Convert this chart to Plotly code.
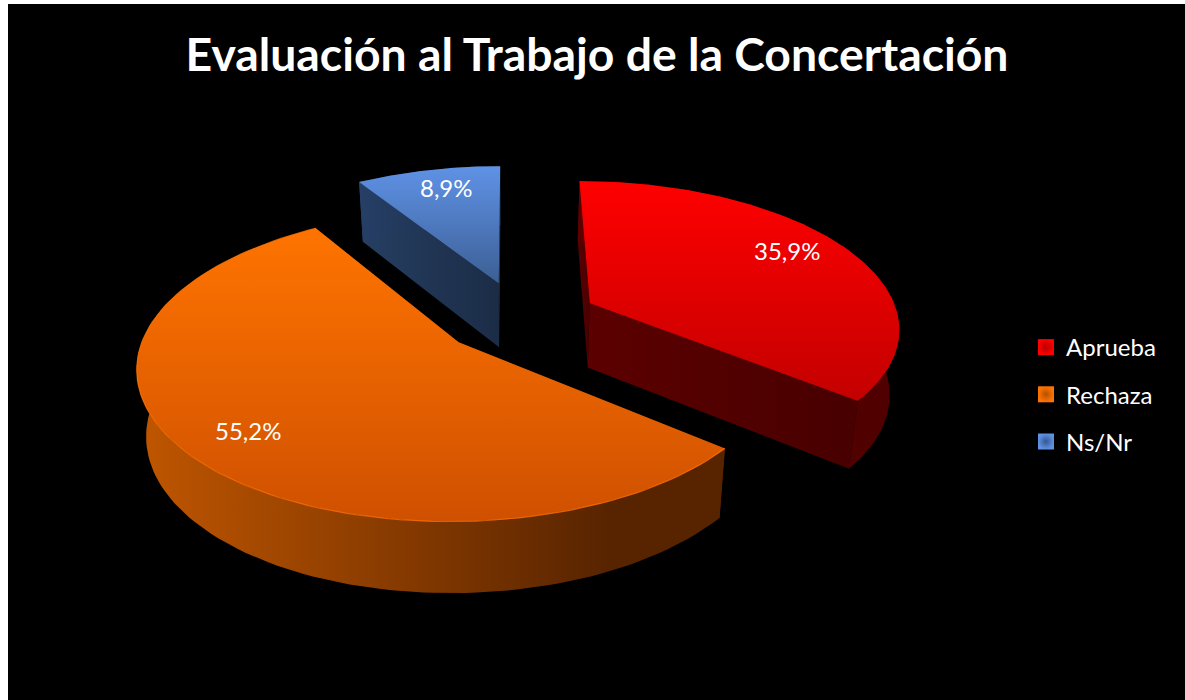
import numpy as np
import plotly.graph_objects as go

categories = ["Aprueba", "Rechaza", "Ns/Nr"]
values = [35.9, 55.2, 8.9]
labels = ["35,9%", "55,2%", "8,9%"]
title = "Evaluación al Trabajo de la Concertación"

explode = [0.29, 0.216, 0.27]
explode_dir_nudge = [0.0, 0.0, 8.0]
top_cols = [["#ff0000", "#c40000"], ["#ff7400", "#cf5000"], ["#5f92e6", "#3c5f94"]]
rim_cols = [["#5c0000", "#500000"], ["#c05600", "#582400"], ["#263f66", "#1a2b45"]]
wall_cols = [["#5c0000", "#480000"], ["#5a2400", "#5a2400"], ["#263f62", "#1b2c46"]]
legend_cols = [["#ff0000", "#b80000"], ["#ff7400", "#b85000"], ["#5f92e6", "#35588f"]]
label_xy = [(787, 250), (248, 430), (446, 187)]

X0, Y0, A, B, K, H, BOT = 510, 321, 310, 145.4, 0.15, 65, 0.975


def project(gx, gz):
    den = 1 + K * gz
    return X0 + A * gx / den, Y0 - B * gz / den, 1 + 0.08 * gz


def h_grad(cols, hold=1.0):
    stops = [[0, cols[0]], [hold, cols[1]]]
    if hold < 1:
        stops.append([1, cols[1]])
    return dict(type="horizontal", colorscale=stops)


fig = go.Figure()
start = 0.0
for i, v in enumerate(values):
    sweep = v / 100 * 2 * np.pi
    mid = start + sweep / 2 + np.radians(explode_dir_nudge[i])
    ax, az = explode[i] * np.sin(mid), explode[i] * np.cos(mid)
    th = np.linspace(start, start + sweep, 120)
    rx, rz = ax + np.sin(th), az + np.cos(th)
    px, py, pd_ = project(rx, rz)
    apx, apy, apd = project(np.array([ax]), np.array([az]))
    bx = X0 + (px - X0) * BOT
    by = py + H / pd_
    abx = X0 + (apx - X0) * BOT
    aby = apy + H / apd
    # radial walls
    for j in (0, -1):
        fig.add_trace(go.Scatter(
            x=[apx[0], px[j], bx[j], abx[0], apx[0]],
            y=[apy[0], py[j], by[j], aby[0], apy[0]],
            mode="lines", fill="toself", fillgradient=h_grad(wall_cols[i]),
            line=dict(width=0), showlegend=False, hoverinfo="skip"))
    # outer rim
    fig.add_trace(go.Scatter(
        x=np.r_[px, bx[::-1], px[0]], y=np.r_[py, by[::-1], py[0]],
        mode="lines", fill="toself",
        fillgradient=h_grad(rim_cols[i], 0.8 if i == 1 else 1.0),
        line=dict(width=0), showlegend=False, hoverinfo="skip"))
    # top face
    fig.add_trace(go.Scatter(
        x=np.r_[apx, px, apx], y=np.r_[apy, py, apy],
        mode="lines", fill="toself",
        fillgradient=dict(type="vertical",
                          colorscale=[[0, top_cols[i][1]], [1, top_cols[i][0]]]),
        line=dict(width=0), showlegend=False, hoverinfo="skip"))
    # bevel highlight along the rim of the large slice
    if i == 1:
        fig.add_trace(go.Scatter(
            x=px, y=py, mode="lines",
            line=dict(width=1.2, color="rgba(255,112,0,0.8)"),
            showlegend=False, hoverinfo="skip"))
    start += sweep

for name, col in zip(categories, legend_cols):
    fig.add_trace(go.Scatter(
        x=[None], y=[None], mode="markers", name=name, legendgroup=name,
        marker=dict(symbol="square", size=16, color=col[0],
                    gradient=dict(type="radial", color=col[1]))))

for (lx, ly), t in zip(label_xy, labels):
    fig.add_annotation(x=lx, y=ly, text=t, showarrow=False,
                       font=dict(family="Lato", size=24, color="white"))

fig.update_layout(
    width=1185, height=700,
    margin=dict(l=8, r=0, t=4, b=0),
    paper_bgcolor="white", plot_bgcolor="black",
    title=dict(text=title, x=597 / 1185, xanchor="center", y=1 - 55 / 700,
               yanchor="middle",
               font=dict(family="Lato", size=46.3, color="white", weight="bold")),
    xaxis=dict(range=[8, 1185], visible=False, fixedrange=True),
    yaxis=dict(range=[700, 4], visible=False, fixedrange=True),
    legend=dict(x=(1026 - 8) / 1177, y=1 - (325 - 4) / 696, xanchor="left", yanchor="top",
                bgcolor="rgba(0,0,0,0)", tracegroupgap=13,
                font=dict(family="Lato", size=24, color="white")),
)
fig.write_html("out.html", config={"displayModeBar": False},
               post_script="document.body.style.margin='0';")
